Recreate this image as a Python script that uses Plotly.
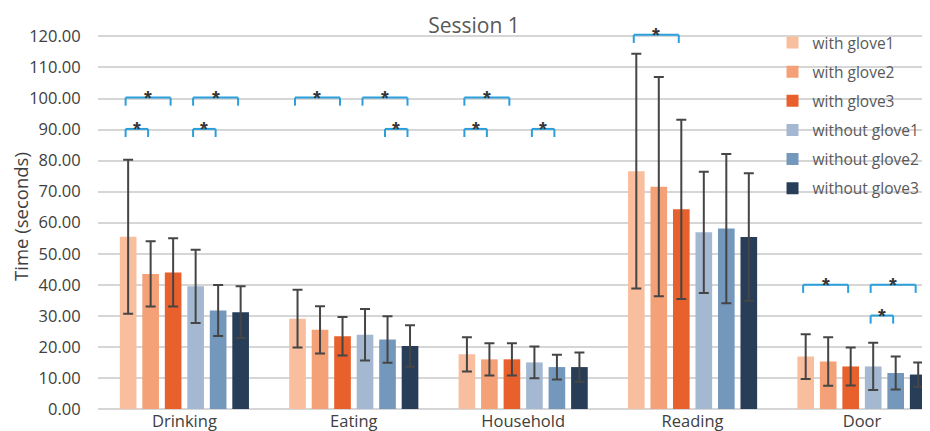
import plotly.graph_objects as go

categories = ["Drinking", "Eating", "Household", "Reading", "Door"]
series_names = ["with glove1", "with glove2", "with glove3",
                "without glove1", "without glove2", "without glove3"]

with_glove1 = [55.5, 29.1, 17.6, 76.6, 16.9]
with_glove2 = [43.5, 25.5, 16.0, 71.6, 15.3]
with_glove3 = [44.0, 23.4, 16.0, 64.3, 13.7]
without_glove1 = [39.5, 23.9, 15.0, 56.9, 13.7]
without_glove2 = [31.7, 22.4, 13.5, 58.1, 11.6]
without_glove3 = [31.2, 20.3, 13.5, 55.4, 11.1]

sd_with_glove1 = [24.8, 9.3, 5.5, 37.8, 7.2]
sd_with_glove2 = [10.5, 7.6, 5.2, 35.3, 7.8]
sd_with_glove3 = [11.0, 6.2, 5.2, 28.9, 6.1]
sd_without_glove1 = [11.8, 8.3, 5.1, 19.5, 7.6]
sd_without_glove2 = [8.2, 7.5, 4.0, 24.0, 5.3]
sd_without_glove3 = [8.3, 6.7, 4.7, 20.5, 3.9]

y_tick_values = [0, 10, 20, 30, 40, 50, 60, 70, 80, 90, 100, 110, 120]

# significance brackets: (category index, first bar, last bar, level)
brackets = [
    (0, 0, 2, 100.3), (0, 3, 5, 100.3), (0, 0, 1, 90.2), (0, 3, 4, 90.2),
    (1, 0, 2, 100.3), (1, 3, 5, 100.3), (1, 4, 5, 90.2),
    (2, 0, 2, 100.3), (2, 0, 1, 90.2), (2, 3, 4, 90.2),
    (3, 0, 2, 120.5),
    (4, 0, 2, 40.0), (4, 3, 5, 40.0), (4, 3, 4, 30.1),
]

values = [with_glove1, with_glove2, with_glove3,
          without_glove1, without_glove2, without_glove3]
errors = [sd_with_glove1, sd_with_glove2, sd_with_glove3,
          sd_without_glove1, sd_without_glove2, sd_without_glove3]
colors = ["#F8BE9E", "#F4A178", "#E8602B", "#A4B9D1", "#7497BC", "#283E58"]

BARGAP = 0.203
BARGROUPGAP = 0.26

fig = go.Figure()
for name, v, e, c in zip(series_names, values, errors, colors):
    fig.add_trace(go.Bar(
        x=categories, y=v, name=name, marker_color=c,
        marker_line_width=0, legendgroup=name,
        error_y=dict(type="data", array=e, visible=True,
                     color="#454545", thickness=2, width=5),
    ))

n = len(series_names)
group_w = 1 - BARGAP
slot = group_w / n


def bar_pos(cat, i):
    return cat - group_w / 2 + slot * (i + 0.5)


shapes = []
annotations = []
tick = 2.6
bcol = "#2A9FDC"
for cat, i0, i1, lvl in brackets:
    x0 = bar_pos(cat, i0) - 0.015
    x1 = bar_pos(cat, i1) - 0.015
    for (xa, ya, xb, yb) in [(x0, lvl, x1, lvl), (x0, lvl, x0, lvl - tick),
                             (x1, lvl, x1, lvl - tick)]:
        shapes.append(dict(type="line", xref="x", yref="y", x0=xa, y0=ya,
                           x1=xb, y1=yb, line=dict(color=bcol, width=2)))
    annotations.append(dict(x=(x0 + x1) / 2, y=lvl, xref="x", yref="y",
                            text="<b>*</b>", showarrow=False,
                            yanchor="middle", yshift=0,
                            font=dict(family="Liberation Sans", size=20,
                                      color="#333333")))

fig.update_layout(
    width=930, height=431,
    barmode="group", bargap=BARGAP, bargroupgap=BARGROUPGAP,
    plot_bgcolor="white", paper_bgcolor="white",
    margin=dict(l=90, r=0, t=16, b=30),
    font=dict(family="Open Sans", color="#595959", size=15),
    title=dict(text="Session 1", x=0.501, xref="container", y=0.958,
               yref="container", xanchor="center", yanchor="middle",
               font=dict(family="Open Sans", size=21, color="#595959")),
    xaxis=dict(range=[-0.51, 4.449], showgrid=False, showline=False,
               ticks="", tickfont=dict(size=16.5, color="#404040")),
    yaxis=dict(range=[0, 124], tickvals=y_tick_values, tickformat=".2f",
               showgrid=True, gridcolor="#D6D6D6", gridwidth=1.5,
               zeroline=True, zerolinecolor="#D6D6D6", zerolinewidth=1.5,
               showline=False, ticks="outside", ticklen=13,
               tickcolor="rgba(0,0,0,0)",
               tickfont=dict(size=16.5, color="#404040"),
               title=dict(text="Time (seconds)", standoff=4,
                          font=dict(size=18.5, color="#404040"))),
    legend=dict(x=0.803, y=0.995, xanchor="left", yanchor="top",
                bgcolor="rgba(0,0,0,0)", tracegroupgap=6,
                font=dict(size=15.5, color="#595959"),
                itemwidth=30),
    showlegend=True,
    shapes=shapes, annotations=annotations,
)

fig.write_html("out.html")
